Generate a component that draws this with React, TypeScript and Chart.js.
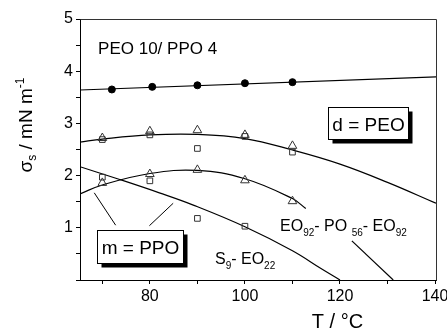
import { useEffect, useRef } from 'react';
import { Chart, registerables } from 'chart.js';
Chart.register(...registerables);

const FONT = '"Liberation Sans", Arial, sans-serif';

// axis
const xMin = 65.3;
const xMax = 140.2;
const xTickValues = [70, 80, 90, 100, 110, 120, 130, 140];
const xLabelled = [80, 100, 120, 140];
const yMin = 0;
const yMax = 5;

// PEO 10 / PPO 4 (filled circles) and its fit
const peoX = [72, 80.5, 90, 100, 110];
const peoY = [3.65, 3.7, 3.73, 3.77, 3.79];
const peoFitX = [65.3, 140.2];
const peoFitY = [3.64, 3.89];

// EO92-PO56-EO92 (d = PEO) upper set
const symX = [70, 80, 90, 100, 110];
const upperTriY = [2.72, 2.85, 2.87, 2.78, 2.57];
const upperSqY = [2.69, 2.78, 2.52, 2.75, 2.45];
const upperFitX = [65.3, 70, 80, 90, 100, 110, 120, 130, 140.2];
const upperFitY = [2.64, 2.7, 2.78, 2.79, 2.71, 2.49, 2.22, 1.87, 1.47];

// m = PPO lower set
const lowerTriY = [1.86, 2.03, 2.11, 1.91, 1.51];
const lowerSqX = [70, 80, 90, 100];
const lowerSqY = [1.97, 1.9, 1.18, 1.03];
const bellFitX = [65.3, 70, 80, 90, 100, 110, 112.8];
const bellFitY = [1.65, 1.82, 2.04, 2.1, 1.94, 1.56, 1.37];
const bellTailX = [122.5, 131.2];
const bellTailY = [0.75, 0];
const s9FitX = [65.3, 73.5, 82, 89, 100, 110, 116, 120];
const s9FitY = [2.17, 1.93, 1.67, 1.44, 1.02, 0.56, 0.22, 0];

const pts = (xs: number[], ys: number[]) => xs.map((x, i) => ({ x, y: ys[i] }));

type Seg = { t: string; size: number; dy: number };

function richWidth(ctx: CanvasRenderingContext2D, segs: Seg[]) {
  let w = 0;
  for (const s of segs) {
    ctx.font = `${s.size}px ${FONT}`;
    w += ctx.measureText(s.t).width;
  }
  return w;
}

function drawRich(ctx: CanvasRenderingContext2D, segs: Seg[], x: number, y: number) {
  let cx = x;
  ctx.textAlign = 'left';
  ctx.textBaseline = 'alphabetic';
  for (const s of segs) {
    ctx.font = `${s.size}px ${FONT}`;
    ctx.fillText(s.t, cx, y + s.dy);
    cx += ctx.measureText(s.t).width;
  }
}

const M = (t: string, size = 16): Seg => ({ t, size, dy: 0 });
const SUB = (t: string, size = 10): Seg => ({ t, size, dy: 5 });
const SUP = (t: string, size = 11): Seg => ({ t, size, dy: -8 });

const annotPlugin = {
  id: 'annot',
  afterDraw(chart: any) {
    const { ctx, chartArea: a } = chart;
    const sx = chart.scales.x;
    const sy = chart.scales.y;
    const px = (v: number) => sx.getPixelForValue(v);
    const py = (v: number) => sy.getPixelForValue(v);
    ctx.save();
    // frame top and right
    ctx.strokeStyle = '#333';
    ctx.lineWidth = 1;
    ctx.beginPath();
    ctx.moveTo(Math.round(a.left) + 0.5, Math.round(a.top) + 0.5);
    ctx.lineTo(Math.round(a.right) + 0.5, Math.round(a.top) + 0.5);
    ctx.lineTo(Math.round(a.right) + 0.5, Math.round(a.bottom) + 0.5);
    ctx.stroke();

    ctx.fillStyle = '#000';
    // title
    ctx.font = `17px ${FONT}`;
    ctx.textAlign = 'left';
    ctx.textBaseline = 'alphabetic';
    ctx.fillText('PEO 10/ PPO 4', px(69.1), py(4.33));

    // pointer lines
    ctx.strokeStyle = '#000';
    ctx.beginPath();
    ctx.moveTo(px(72.8), py(1.05));
    ctx.lineTo(px(68.3), py(1.67));
    ctx.moveTo(px(79.9), py(1.04));
    ctx.lineTo(px(84.9), py(1.47));
    ctx.stroke();

    const box = (x0: number, x1: number, y0: number, y1: number, text: string) => {
      const l = Math.round(px(x0)) + 0.5;
      const r = Math.round(px(x1)) + 0.5;
      const t = Math.round(py(y0)) + 0.5;
      const b = Math.round(py(y1)) + 0.5;
      ctx.fillStyle = '#000';
      ctx.fillRect(l + 4, t + 4, r - l, b - t);
      ctx.fillStyle = '#fff';
      ctx.fillRect(l, t, r - l, b - t);
      ctx.strokeStyle = '#000';
      ctx.lineWidth = 1;
      ctx.strokeRect(l, t, r - l, b - t);
      ctx.fillStyle = '#000';
      ctx.font = `19px ${FONT}`;
      ctx.textAlign = 'center';
      ctx.textBaseline = 'alphabetic';
      ctx.fillText(text, (l + r) / 2, (t + b) / 2 + 7);
    };
    box(117.5, 134.35, 3.31, 2.7, 'd = PEO');
    box(68.94, 87.04, 0.964, 0.32, 'm = PPO');

    ctx.fillStyle = '#000';
    drawRich(ctx, [M('EO'), SUB('92'), M('- PO '), SUB('56'), M('- EO'), SUB('92')], px(107.4), py(0.94));
    drawRich(ctx, [M('S'), SUB('9'), M('- EO'), SUB('22')], px(93.7), py(0.31));

    // axis titles
    const ySegs: Seg[] = [M('σ', 19), { t: 's', size: 12, dy: 4 }, M(' / mN m', 19), SUP('-1', 12)];
    const w = richWidth(ctx, ySegs);
    ctx.save();
    ctx.translate(32, 125);
    ctx.rotate(-Math.PI / 2);
    drawRich(ctx, ySegs, -w / 2, 0);
    ctx.restore();

    ctx.font = `20px ${FONT}`;
    ctx.textAlign = 'center';
    ctx.textBaseline = 'alphabetic';
    ctx.fillText('T / °C', 337.5, 328);
    ctx.restore();
  },
};

export default function App() {
  const ref = useRef<HTMLCanvasElement | null>(null);
  useEffect(() => {
    document.body.style.margin = '0';
    if (!ref.current) return;
    Chart.defaults.font.family = FONT;
    const lineDs = (data: any[], tension = 0.4) => ({
      type: 'scatter' as const,
      data,
      showLine: true,
      borderColor: '#000',
      borderWidth: 1.2,
      pointRadius: 0,
      pointHoverRadius: 0,
      tension,
      fill: false,
    });
    const markerDs = (data: any[], style: string, radius: number, filled: boolean) => ({
      type: 'scatter' as const,
      data,
      showLine: false,
      pointStyle: style,
      pointRadius: radius,
      pointBorderWidth: 1,
      pointBorderColor: filled ? '#000' : '#333',
      pointBackgroundColor: filled ? '#000' : 'rgba(0,0,0,0)',
    });
    const chart = new Chart(ref.current, {
      type: 'scatter',
      data: {
        datasets: [
          markerDs(pts(peoX, peoY), 'circle', 3.5, true),
          markerDs(pts(symX, upperTriY), 'triangle', 5, false),
          markerDs(pts(symX, upperSqY), 'rect', 4, false),
          markerDs(pts(symX, lowerTriY), 'triangle', 5, false),
          markerDs(pts(lowerSqX, lowerSqY), 'rect', 4, false),
          lineDs(pts(peoFitX, peoFitY), 0),
          lineDs(pts(upperFitX, upperFitY)),
          lineDs(pts(bellFitX, bellFitY)),
          lineDs(pts(bellTailX, bellTailY), 0),
          lineDs(pts(s9FitX, s9FitY)),
        ] as any,
      },
      options: {
        responsive: false,
        animation: false,
        devicePixelRatio: 1,
        layout: { padding: { left: 0, right: 11, top: 19, bottom: 0 } },
        plugins: { legend: { display: false }, tooltip: { enabled: false } },
        scales: {
          x: {
            type: 'linear',
            min: xMin,
            max: xMax,
            afterBuildTicks: (s: any) => {
              s.ticks = xTickValues.map((v) => ({ value: v }));
            },
            afterFit: (s: any) => {
              s.height = 48;
              s.paddingLeft = 0;
              s.paddingRight = 0;
            },
            grid: { display: true, drawOnChartArea: false, drawTicks: true, tickLength: 4, color: '#000' },
            border: { display: true, color: '#000', width: 1 },
            ticks: {
              autoSkip: false,
              maxRotation: 0,
              padding: 3,
              color: '#000',
              font: { size: 16, family: FONT },
              callback: (v: any) => (xLabelled.includes(Number(v)) ? String(v) : ''),
            },
          },
          y: {
            type: 'linear',
            min: yMin,
            max: yMax,
            afterFit: (s: any) => {
              s.width = 80;
              s.paddingTop = 0;
              s.paddingBottom = 0;
            },
            grid: { display: true, drawOnChartArea: false, drawTicks: true, tickLength: 4, color: '#000' },
            border: { display: true, color: '#000', width: 1 },
            ticks: {
              stepSize: 0.5,
              autoSkip: false,
              padding: 3,
              color: '#000',
              font: { size: 16, family: FONT },
              callback: (v: any) => (Number(v) % 1 === 0 && Number(v) > 0 ? String(v) : ''),
            },
          },
        },
      },
      plugins: [annotPlugin],
    });
    return () => chart.destroy();
  }, []);
  return (
    <div style={{ width: 447, height: 328 }}>
      <canvas ref={ref} width={447} height={328} style={{ display: 'block' }} />
    </div>
  );
}
